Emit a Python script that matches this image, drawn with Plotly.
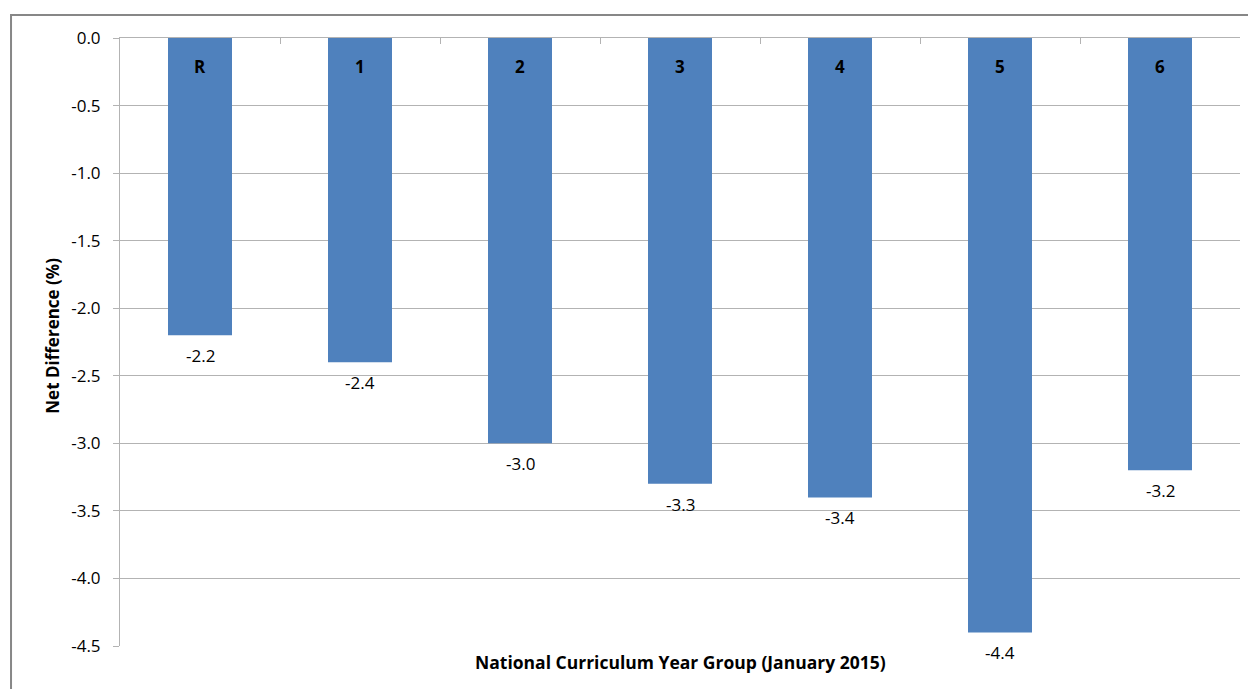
import plotly.graph_objects as go

categories = ["R", "1", "2", "3", "4", "5", "6"]
values = [-2.2, -2.4, -3.0, -3.3, -3.4, -4.4, -3.2]
y_ticks = [0.0, -0.5, -1.0, -1.5, -2.0, -2.5, -3.0, -3.5, -4.0, -4.5]

FONT = "Open Sans"
GRID = "#b3b3b3"

fig = go.Figure()
fig.add_trace(go.Bar(
    x=categories, y=values,
    marker=dict(color="#4f81bd", line=dict(width=0)),
    width=0.4,
    hoverinfo="x+y",
    cliponaxis=False,
))

annotations = []
for c, v in zip(categories, values):
    annotations.append(dict(x=c, y=v, xref="x", yref="y", text=f"{v:.1f}",
                            showarrow=False, yanchor="top", yshift=-7,
                            font=dict(family=FONT, size=17, color="#000")))
    annotations.append(dict(x=c, y=0, xref="x", yref="y", text=f"<b>{c}</b>",
                            showarrow=False, yanchor="top", yshift=-15,
                            font=dict(family=FONT, size=17, color="#000")))

annotations.append(dict(x=0.5, y=-0.026, xref="paper", yref="paper",
                        text="<b>National Curriculum Year Group (January 2015)</b>",
                        showarrow=False, yanchor="middle", xanchor="center",
                        font=dict(family=FONT, size=17.5, color="#000")))
annotations.append(dict(x=-0.06, y=0.51, xref="paper", yref="paper",
                        text="<b>Net Difference (%)</b>", textangle=-90,
                        showarrow=False, yanchor="middle", xanchor="center",
                        font=dict(family=FONT, size=17, color="#000")))

fig.update_layout(
    width=1248, height=689,
    margin=dict(l=120, r=8, t=38, b=43),
    paper_bgcolor="white", plot_bgcolor="white",
    showlegend=False,
    annotations=annotations,
    shapes=[dict(type="rect", xref="paper", yref="paper",
                 x0=-0.0973, x1=1.05, y0=-0.2, y1=1.0378,
                 line=dict(color="#878787", width=2), layer="below")],
    xaxis=dict(type="category", side="top", showticklabels=False,
               ticks="inside", ticklen=6, tickcolor=GRID, tickson="boundaries",
               showgrid=False, showline=True, linecolor=GRID, linewidth=1,
               range=[-0.5, 6.5], zeroline=False),
    yaxis=dict(range=[-4.5, 0], tickvals=y_ticks,
               ticktext=[f"{t:.1f}" for t in y_ticks],
               ticks="outside", ticklen=6, tickcolor=GRID,
               ticklabelstandoff=9,
               showgrid=True, gridcolor=GRID, gridwidth=1,
               showline=True, linecolor=GRID, linewidth=1, zeroline=False,
               tickfont=dict(family=FONT, size=17, color="#000")),
)

fig.write_html("out.html")
